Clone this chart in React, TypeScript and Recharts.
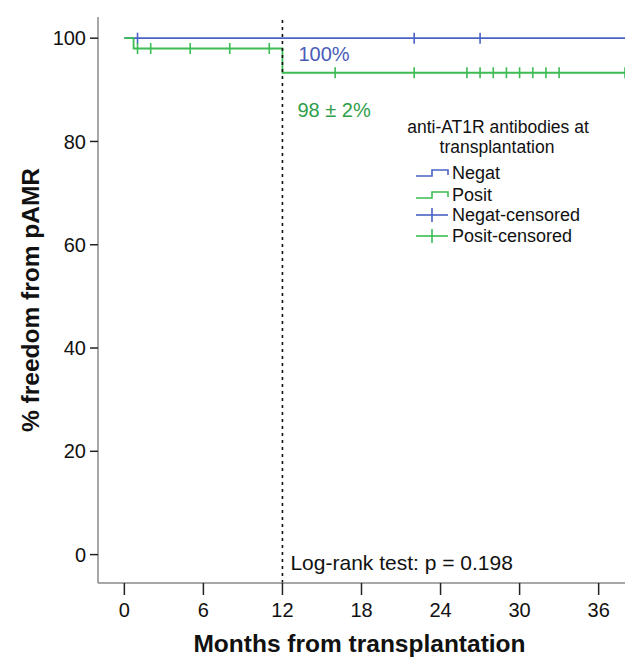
import React from "react";
import { ComposedChart, Line, Scatter, XAxis, YAxis, ReferenceLine, Legend } from "recharts";

const FONT = '"Liberation Sans", Arial, sans-serif';
const BLUE = "#4a62c4";
const GREEN = "#3cbc52";

const monthTicks = [0, 6, 12, 18, 24, 30, 36];
const survTicks = [0, 20, 40, 60, 80, 100];

// Kaplan-Meier step points (months, % free)
const negatMonths = [0, 38];
const negatSurv = [100, 100];
const positMonths = [0, 0.7, 12, 38];
const positSurv = [100, 98, 93.3, 93.3];

// censored cases
const negatCensMonths = [1, 22, 27];
const negatCensSurv = [100, 100, 100];
const positCensMonths = [1, 2, 5, 8, 11, 16, 22, 26, 27, 28, 29, 30, 31, 32, 33, 38];
const positCensSurv = [98, 98, 98, 98, 98, 93.3, 93.3, 93.3, 93.3, 93.3, 93.3, 93.3, 93.3, 93.3, 93.3, 93.3];

const legendTitle = ["anti-AT1R antibodies at", "transplantation"];
const groupNames = ["Negat", "Posit"];
const negatLabel = "100%";
const positLabel = "98 \u00b1 2%";
const testLabel = "Log-rank test: p = 0.198";

const toPoints = (t: number[], s: number[]) => t.map((m, i) => ({ t: m, s: s[i] }));

const censorMark = (color: string) => (p: any) => (
  <line x1={p.cx} x2={p.cx} y1={p.cy - 5.5} y2={p.cy + 5.5} stroke={color} strokeWidth={1.6} />
);

function LegendBox() {
  const colors = [BLUE, GREEN];
  const rows = [63, 85, 105, 126];
  return (
    <svg width={230} height={140} style={{ fontFamily: FONT }}>
      <text x={108} y={17} textAnchor="middle" dominantBaseline="central" fontSize={17.5} fill="#111">{legendTitle[0]}</text>
      <text x={107} y={37} textAnchor="middle" dominantBaseline="central" fontSize={17.5} fill="#111">{legendTitle[1]}</text>
      {groupNames.map((g, i) => {
        const c = rows[i];
        return (
          <g key={g}>
            <polyline
              points={`26,${c + 3} 42,${c + 3} 42,${c - 3} 58,${c - 3} 58,${c + 2}`}
              fill="none" stroke={colors[i]} strokeWidth={1.6}
            />
            <text x={62} y={c} dominantBaseline="central" fontSize={18} fill="#111">{g}</text>
          </g>
        );
      })}
      {groupNames.map((g, i) => {
        const c = rows[i + 2];
        return (
          <g key={g + "-c"}>
            <line x1={26} x2={58} y1={c} y2={c} stroke={colors[i]} strokeWidth={1.6} />
            <line x1={42} x2={42} y1={c - 7} y2={c + 7} stroke={colors[i]} strokeWidth={1.6} />
            <text x={62} y={c} dominantBaseline="central" fontSize={18} fill="#111">{g + "-censored"}</text>
          </g>
        );
      })}
    </svg>
  );
}

function Annotations(props: any) {
  const vb = props.viewBox || {};
  const x = vb.x ?? 0;
  const y = vb.y ?? 0;
  return (
    <g style={{ fontFamily: FONT }}>
      <text x={x + 16} y={y + 37} dominantBaseline="central" fontSize={20} fill="#4a5cb8">{negatLabel}</text>
      <text x={x + 15} y={y + 93} dominantBaseline="central" fontSize={20} fill="#2fa04a">{positLabel}</text>
      <text x={x + 8} y={y + 545} dominantBaseline="central" fontSize={21} fill="#111">{testLabel}</text>
    </g>
  );
}

export default function App() {
  const axisLine = { stroke: "#8a8a8a", strokeWidth: 1.5 };
  const tickLine = { stroke: "#222", strokeWidth: 1.5 };
  const tick = { fill: "#111", fontSize: 20, fontFamily: FONT };
  return (
    <div style={{ position: "absolute", left: 0, top: 0, width: 630, height: 660, background: "#fff" }}>
      <ComposedChart width={630} height={660} margin={{ top: 17, right: 5, bottom: 0, left: 0 }}>
        <XAxis
          type="number"
          dataKey="t"
          domain={[-2, 38]}
          ticks={monthTicks}
          allowDataOverflow
          height={77}
          axisLine={axisLine}
          tickLine={tickLine}
          tickSize={12}
          tickMargin={8}
          tick={tick}
          label={(p: any) => (
            <text x={(p.viewBox?.x ?? 98) + (p.viewBox?.width ?? 527) / 2 - 2} y={643} textAnchor="middle"
              dominantBaseline="central" fontSize={24.5} fontWeight="bold" fontFamily={FONT} fill="#111">
              Months from transplantation
            </text>
          )}
        />
        <YAxis
          type="number"
          dataKey="s"
          domain={[-5.5, 104.1]}
          ticks={survTicks}
          allowDataOverflow
          width={98}
          axisLine={axisLine}
          tickLine={tickLine}
          tickSize={8}
          tickMargin={4}
          tick={tick}
          label={() => (
            <text x={30} y={300} transform="rotate(-90, 30, 300)" textAnchor="middle"
              dominantBaseline="central" fontSize={24.5} fontWeight="bold" fontFamily={FONT} fill="#111">
              % freedom from pAMR
            </text>
          )}
        />
        <Line data={toPoints(negatMonths, negatSurv)} dataKey="s" type="stepAfter" stroke={BLUE}
          strokeWidth={1.8} dot={false} activeDot={false} isAnimationActive={false} />
        <Line data={toPoints(positMonths, positSurv)} dataKey="s" type="stepAfter" stroke={GREEN}
          strokeWidth={1.8} dot={false} activeDot={false} isAnimationActive={false} />
        <Scatter data={toPoints(negatCensMonths, negatCensSurv)} dataKey="s" shape={censorMark(BLUE)}
          isAnimationActive={false} />
        <Scatter data={toPoints(positCensMonths, positCensSurv)} dataKey="s" shape={censorMark(GREEN)}
          isAnimationActive={false} />
        <ReferenceLine x={12} stroke="#111" strokeWidth={1.6} strokeDasharray="3 4" label={Annotations} />
        <Legend
          layout="vertical"
          align="center"
          verticalAlign="middle"
          content={() => <LegendBox />}
          wrapperStyle={{ position: "absolute", left: 390, top: 110, width: 230, height: 140 }}
        />
      </ComposedChart>
    </div>
  );
}
